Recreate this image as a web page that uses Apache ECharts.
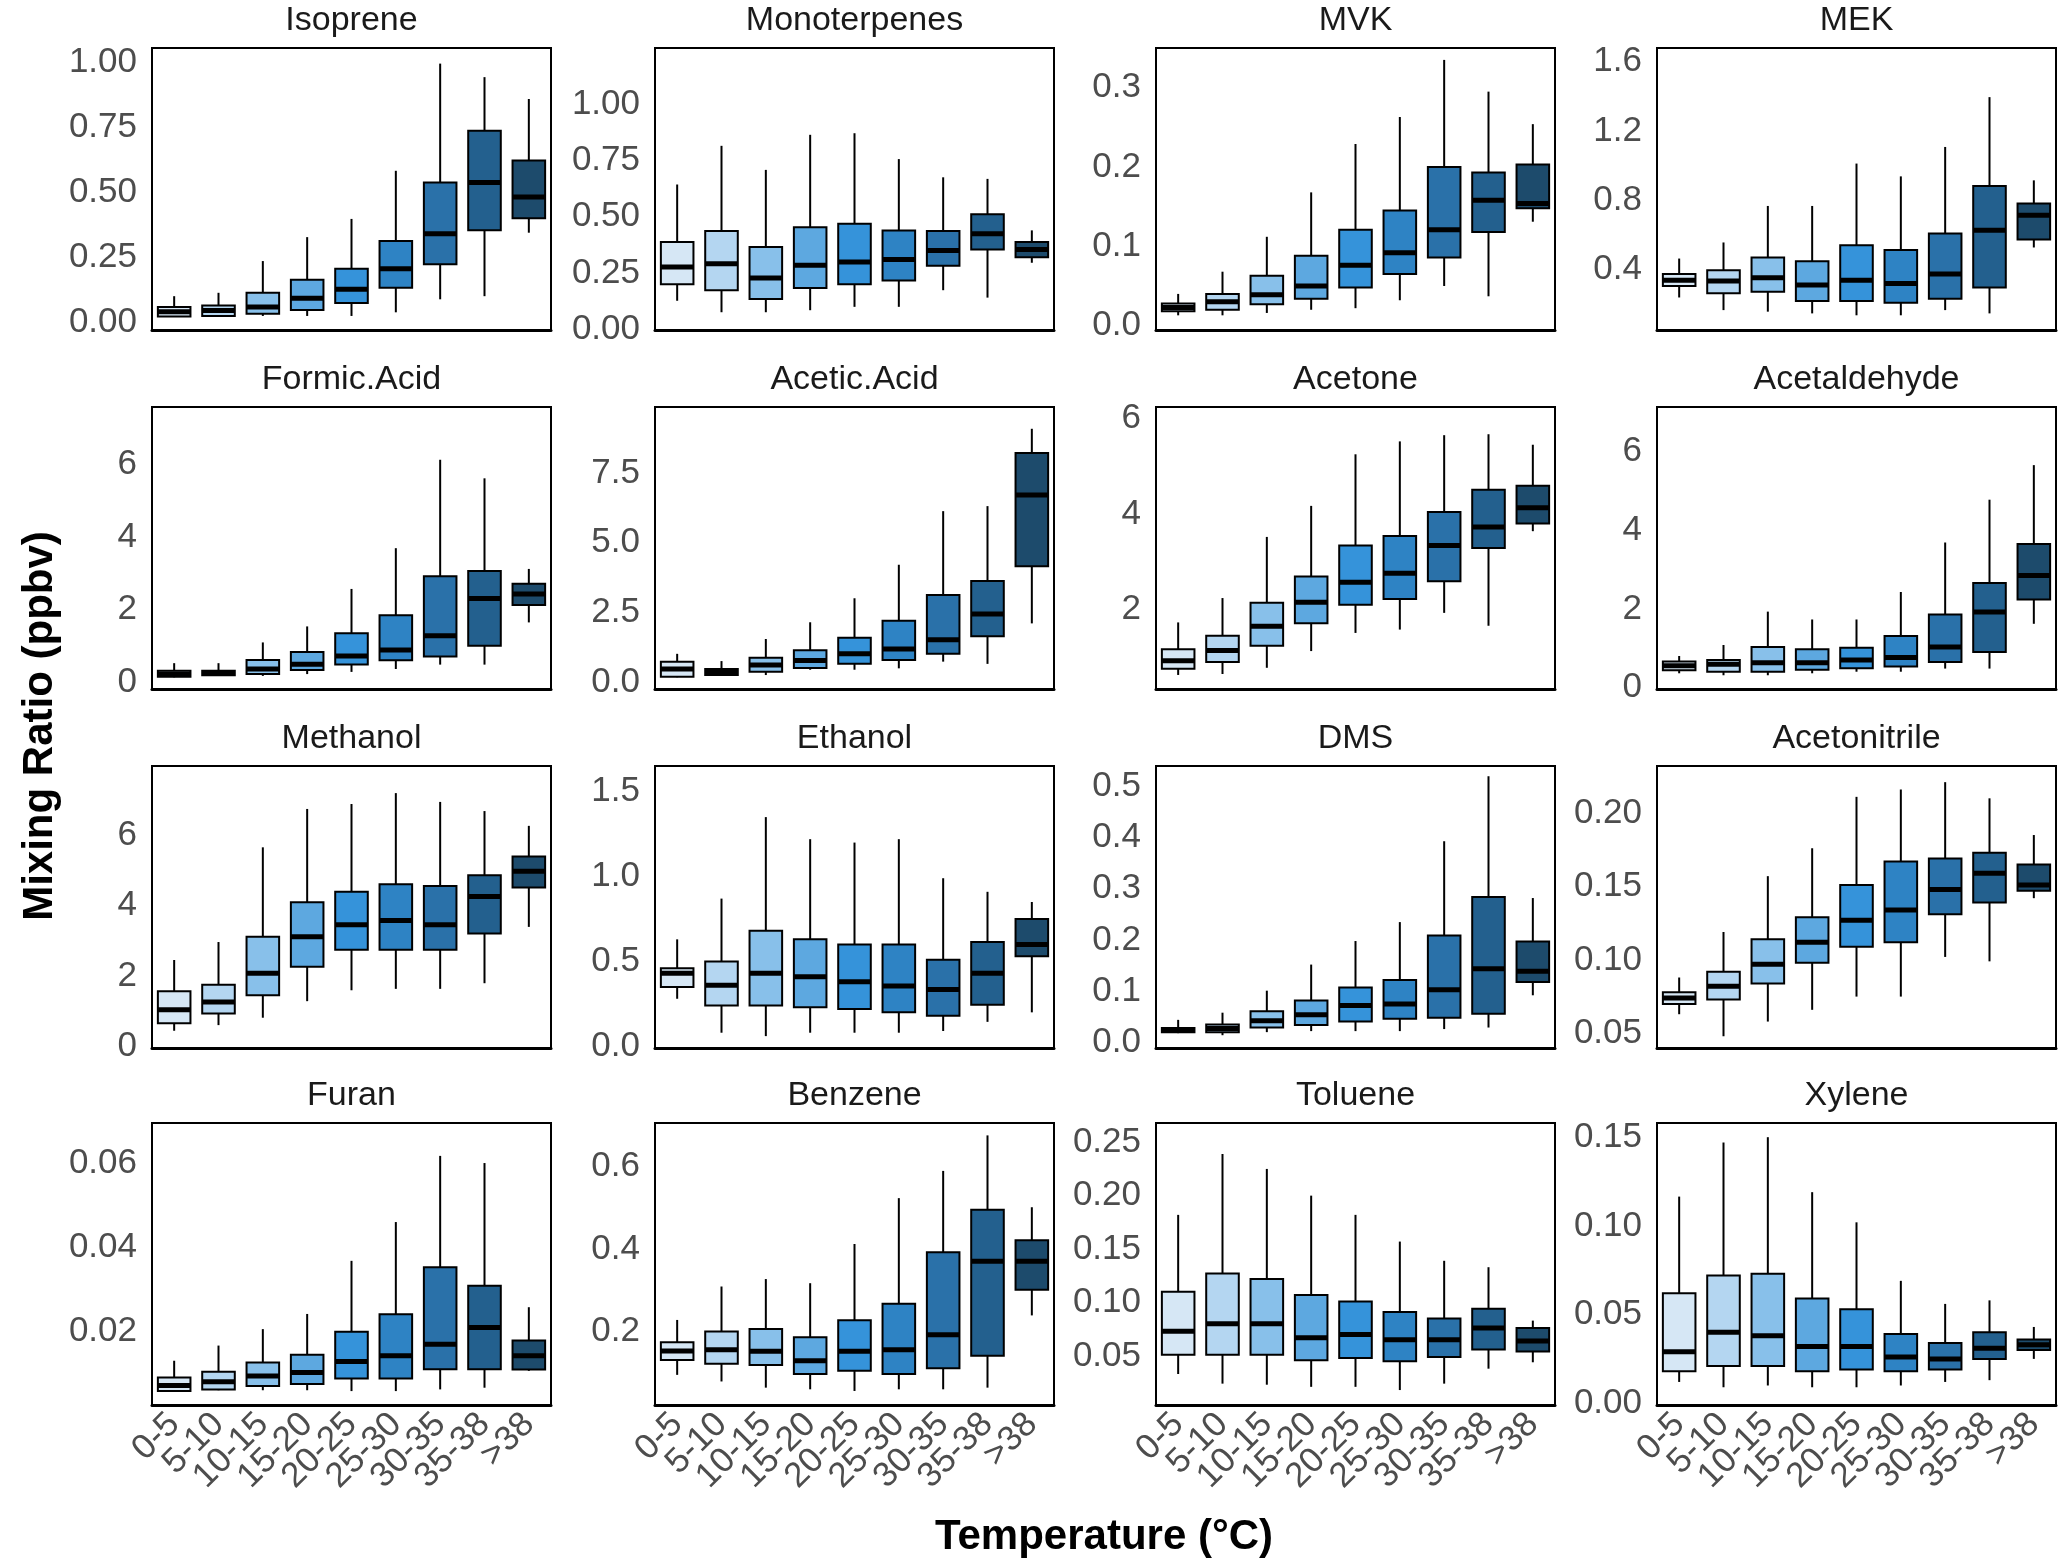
<!DOCTYPE html>
<html><head><meta charset="utf-8">
<script src="https://cdn.jsdelivr.net/npm/echarts@6/dist/echarts.min.js"></script>
<style>html,body{margin:0;padding:0;background:#fff}#c{width:2067px;height:1565px}</style>
</head><body><div id="c"></div><script>
// Temperature bins
const categories = ['0-5','5-10','10-15','15-20','20-25','25-30','30-35','35-38','>38'];
const species = ['Isoprene','Monoterpenes','MVK','MEK','Formic.Acid','Acetic.Acid','Acetone','Acetaldehyde',
                 'Methanol','Ethanol','DMS','Acetonitrile','Furan','Benzene','Toluene','Xylene'];
// each entry: [lower whisker, Q1, median, Q3, upper whisker] per temperature bin
const isoprene = [[0.02,0.022,0.04,0.058,0.10],[0.022,0.024,0.045,0.064,0.113],[0.024,0.032,0.058,0.113,0.235],[0.024,0.047,0.092,0.163,0.327],[0.024,0.074,0.127,0.205,0.397],[0.038,0.132,0.205,0.312,0.582],[0.088,0.223,0.34,0.537,0.994],[0.10,0.353,0.537,0.736,0.942],[0.344,0.40,0.481,0.622,0.858]];
const monoterpenes = [[0.126,0.199,0.276,0.387,0.643],[0.075,0.173,0.291,0.436,0.815],[0.075,0.134,0.227,0.365,0.708],[0.084,0.183,0.284,0.453,0.864],[0.099,0.199,0.298,0.468,0.871],[0.099,0.216,0.309,0.439,0.756],[0.173,0.282,0.35,0.436,0.675],[0.14,0.354,0.424,0.511,0.668],[0.295,0.32,0.354,0.387,0.439]];
const mvk = [[0.013,0.018,0.023,0.028,0.040],[0.013,0.020,0.030,0.040,0.068],[0.016,0.027,0.039,0.063,0.112],[0.020,0.034,0.050,0.088,0.168],[0.022,0.048,0.076,0.121,0.229],[0.032,0.065,0.092,0.145,0.263],[0.050,0.086,0.121,0.200,0.335],[0.037,0.118,0.158,0.193,0.295],[0.131,0.148,0.154,0.203,0.254]];
const mek = [[0.238,0.304,0.338,0.373,0.463],[0.165,0.262,0.333,0.396,0.556],[0.156,0.271,0.352,0.469,0.767],[0.146,0.217,0.31,0.448,0.767],[0.135,0.217,0.338,0.54,1.012],[0.135,0.208,0.319,0.512,0.938],[0.165,0.231,0.373,0.608,1.108],[0.146,0.296,0.627,0.883,1.396],[0.527,0.573,0.713,0.781,0.915]];
const formicAcid = [[0.14,0.16,0.23,0.32,0.53],[0.18,0.2,0.26,0.32,0.53],[0.18,0.23,0.37,0.62,1.10],[0.23,0.34,0.50,0.84,1.54],[0.29,0.49,0.73,1.35,2.57],[0.37,0.61,0.89,1.85,3.69],[0.49,0.71,1.28,2.92,6.12],[0.49,1.01,2.31,3.06,5.61],[1.65,2.13,2.43,2.71,3.12]];
const aceticAcid = [[0.18,0.20,0.48,0.74,1.02],[0.24,0.26,0.38,0.48,0.76],[0.26,0.38,0.62,0.88,1.55],[0.45,0.51,0.78,1.15,2.15],[0.45,0.66,1.02,1.60,3.01],[0.50,0.80,1.19,2.20,4.21],[0.74,1.02,1.52,3.13,6.13],[0.66,1.65,2.45,3.63,6.31],[2.11,4.16,6.71,8.21,9.08]];
const acetone = [[0.63,0.76,0.93,1.17,1.73],[0.65,0.90,1.14,1.45,2.24],[0.78,1.24,1.65,2.14,3.52],[1.13,1.71,2.15,2.69,4.17],[1.51,2.10,2.57,3.34,5.25],[1.58,2.22,2.76,3.54,5.52],[1.93,2.59,3.34,4.04,5.65],[1.66,3.29,3.73,4.51,5.67],[3.64,3.80,4.13,4.59,5.45]];
const acetaldehyde = [[0.36,0.44,0.55,0.66,0.80],[0.31,0.40,0.59,0.70,1.08],[0.31,0.40,0.63,1.03,1.93],[0.36,0.45,0.63,0.97,1.73],[0.40,0.49,0.70,1.01,1.73],[0.40,0.53,0.76,1.31,2.43],[0.48,0.65,1.03,1.86,3.69],[0.48,0.90,1.92,2.66,4.78],[1.62,2.24,2.85,3.65,5.66]];
const methanol = [[0.45,0.66,1.05,1.57,2.46],[0.61,0.94,1.27,1.76,2.97],[0.82,1.46,2.08,3.12,5.66],[1.29,2.27,3.12,4.10,6.75],[1.60,2.75,3.46,4.40,6.89],[1.64,2.75,3.58,4.61,7.20],[1.64,2.75,3.46,4.56,6.95],[1.80,3.21,4.26,4.87,6.69],[3.40,4.52,4.98,5.40,6.27]];
const ethanol = [[0.28,0.35,0.43,0.46,0.63],[0.08,0.24,0.36,0.50,0.87],[0.06,0.24,0.43,0.68,1.35],[0.08,0.23,0.41,0.63,1.22],[0.08,0.22,0.38,0.60,1.20],[0.08,0.20,0.355,0.60,1.22],[0.09,0.18,0.335,0.51,0.99],[0.144,0.245,0.43,0.615,0.91],[0.20,0.53,0.60,0.75,0.85]];
const dms = [[0.018,0.020,0.024,0.028,0.044],[0.014,0.020,0.027,0.035,0.058],[0.020,0.029,0.042,0.061,0.101],[0.022,0.034,0.054,0.082,0.152],[0.022,0.041,0.072,0.107,0.198],[0.022,0.046,0.075,0.122,0.235],[0.026,0.048,0.103,0.209,0.393],[0.029,0.056,0.144,0.284,0.52],[0.092,0.118,0.139,0.197,0.282]];
const acetonitrile = [[0.063,0.070,0.074,0.078,0.088],[0.048,0.073,0.082,0.092,0.119],[0.058,0.084,0.097,0.114,0.157],[0.066,0.098,0.112,0.129,0.176],[0.075,0.109,0.127,0.151,0.211],[0.075,0.112,0.134,0.167,0.216],[0.102,0.131,0.148,0.169,0.221],[0.099,0.139,0.159,0.173,0.210],[0.142,0.147,0.151,0.165,0.185]];
const furan = [[0.0057,0.0059,0.0072,0.0091,0.0131],[0.0061,0.0063,0.0081,0.0105,0.0167],[0.0061,0.0071,0.0095,0.0127,0.0206],[0.0061,0.0076,0.0103,0.0145,0.0242],[0.0059,0.0089,0.0129,0.0200,0.0368],[0.0059,0.0089,0.0143,0.0241,0.0460],[0.0063,0.0111,0.0170,0.0353,0.0617],[0.0067,0.0111,0.0210,0.0309,0.0600],[0.0107,0.0110,0.0143,0.0179,0.0258]];
const benzene = [[0.095,0.131,0.153,0.174,0.228],[0.079,0.122,0.156,0.200,0.309],[0.064,0.119,0.152,0.206,0.327],[0.060,0.097,0.129,0.186,0.317],[0.056,0.105,0.152,0.227,0.412],[0.060,0.097,0.156,0.267,0.523],[0.060,0.111,0.192,0.392,0.589],[0.064,0.141,0.370,0.495,0.675],[0.239,0.301,0.370,0.421,0.501]];
const toluene = [[0.033,0.051,0.073,0.110,0.182],[0.024,0.051,0.080,0.127,0.239],[0.023,0.051,0.080,0.122,0.225],[0.021,0.046,0.067,0.107,0.200],[0.021,0.048,0.070,0.101,0.182],[0.018,0.045,0.065,0.091,0.157],[0.024,0.049,0.065,0.085,0.139],[0.038,0.056,0.076,0.094,0.133],[0.044,0.054,0.064,0.076,0.083]];
const xylene = [[0.012,0.018,0.029,0.062,0.1165],[0.009,0.021,0.040,0.072,0.147],[0.010,0.021,0.038,0.073,0.150],[0.009,0.018,0.032,0.059,0.119],[0.009,0.019,0.032,0.053,0.102],[0.010,0.018,0.026,0.039,0.069],[0.012,0.019,0.025,0.034,0.056],[0.013,0.025,0.031,0.040,0.058],[0.025,0.030,0.033,0.036,0.043]];
const seriesData = [isoprene,monoterpenes,mvk,mek,formicAcid,aceticAcid,acetone,acetaldehyde,methanol,ethanol,dms,acetonitrile,furan,benzene,toluene,xylene];

// y tick labels per panel
const yTicks = [[0,0.25,0.5,0.75,1],[0,0.25,0.5,0.75,1],[0,0.1,0.2,0.3],[0.4,0.8,1.2,1.6],
  [0,2,4,6],[0,2.5,5,7.5],[2,4,6],[0,2,4,6],
  [0,2,4,6],[0,0.5,1,1.5],[0,0.1,0.2,0.3,0.4,0.5],[0.05,0.1,0.15,0.2],
  [0.02,0.04,0.06],[0.2,0.4,0.6],[0.05,0.1,0.15,0.2,0.25],[0,0.05,0.1,0.15]];
const yDecimals = [2,2,1,1, 0,1,0,0, 0,1,1,2, 2,1,2,2];
const yMin = [-0.03,-0.004,-0.0055,0.05, -0.18,-0.24,0.336,-0.04, -0.04,-0.01,-0.011,0.040, 0.0026,0.022,0.004,-0.001];
const yMax = [1.054,1.25,0.35,1.68, 7.57,9.86,6.24,7.14, 7.97,1.651,0.54,0.232, 0.0695,0.705,0.268,0.158];

const boxColors = ['#d6e7f5','#b4d6f1','#88c0ea','#5da8e0','#3593da','#2e83c4','#2a71a9','#23608e','#1d4b6c'];
const colLeft = [152, 655, 1156, 1657], rowTop = [48, 407, 766, 1123], W = 399, H = 282;
const FONT = '"Liberation Sans", Arial, sans-serif';

const grids = [], xAxes = [], yAxes = [], series = [], graphics = [];
species.forEach((name, i) => {
  const r = Math.floor(i / 4), c = i % 4;
  grids.push({left: colLeft[c], top: rowTop[r], width: W, height: H, show: true,
    borderColor: '#000', borderWidth: 2, backgroundColor: '#fff', containLabel: false});
  xAxes.push({type: 'category', gridIndex: i, data: categories, boundaryGap: true,
    axisLine: {show: true, onZero: false, lineStyle: {color: '#000', width: 3}},
    axisTick: {show: false}, splitLine: {show: false},
    axisLabel: {show: r === 3, interval: 0, rotate: 45, margin: 14,
      fontSize: 35, color: '#4d4d4d', fontFamily: FONT}});
  yAxes.push({type: 'value', gridIndex: i, min: yMin[i], max: yMax[i],
    axisLine: {show: false}, axisTick: {show: false}, splitLine: {show: false},
    axisLabel: {customValues: yTicks[i], margin: 15, fontSize: 35, color: '#4d4d4d', fontFamily: FONT,
      showMinLabel: true, showMaxLabel: true,
      formatter: v => Number(v).toFixed(yDecimals[i])}});
  series.push({type: 'custom', xAxisIndex: i, yAxisIndex: i, clip: false,
    data: seriesData[i].map((d, j) => [j].concat(d)),
    renderItem: function (params, api) {
      const x = api.value(0);
      const pMin = api.coord([x, api.value(1)]);
      const pQ1 = api.coord([x, api.value(2)]);
      const pMed = api.coord([x, api.value(3)]);
      const pQ3 = api.coord([x, api.value(4)]);
      const pMax = api.coord([x, api.value(5)]);
      const w = api.size([1, 0])[0] * 0.735;
      const col = boxColors[params.dataIndex];
      return {type: 'group', children: [
        {type: 'line', shape: {x1: pMax[0], y1: pMax[1], x2: pQ3[0], y2: pQ3[1]}, style: {stroke: '#000', lineWidth: 2}},
        {type: 'line', shape: {x1: pQ1[0], y1: pQ1[1], x2: pMin[0], y2: pMin[1]}, style: {stroke: '#000', lineWidth: 2}},
        {type: 'rect', shape: {x: pQ1[0] - w / 2, y: pQ3[1], width: w, height: pQ1[1] - pQ3[1]},
          style: {fill: col, stroke: '#000', lineWidth: 2}},
        {type: 'line', shape: {x1: pMed[0] - w / 2, y1: pMed[1], x2: pMed[0] + w / 2, y2: pMed[1]},
          style: {stroke: '#000', lineWidth: 5}}
      ]};
    }});
  graphics.push({type: 'text', x: colLeft[c] + W / 2, y: rowTop[r] - 27,
    style: {text: name, fontSize: 34, fontFamily: FONT, fill: '#1a1a1a', textAlign: 'center', textVerticalAlign: 'middle'}});
});
graphics.push({type: 'text', x: 40, y: 726, rotation: Math.PI / 2,
  style: {text: 'Mixing Ratio (ppbv)', fontSize: 42, fontWeight: 'bold', fontFamily: FONT, fill: '#000',
    textAlign: 'center', textVerticalAlign: 'middle'}});
graphics.push({type: 'text', x: 1104, y: 1537,
  style: {text: 'Temperature (°C)', fontSize: 42, fontWeight: 'bold', fontFamily: FONT, fill: '#000',
    textAlign: 'center', textVerticalAlign: 'middle'}});

const chart = echarts.init(document.getElementById('c'));
chart.setOption({backgroundColor: '#fff', animation: false, grid: grids, xAxis: xAxes, yAxis: yAxes,
  series: series, graphic: graphics});
</script></body></html>
